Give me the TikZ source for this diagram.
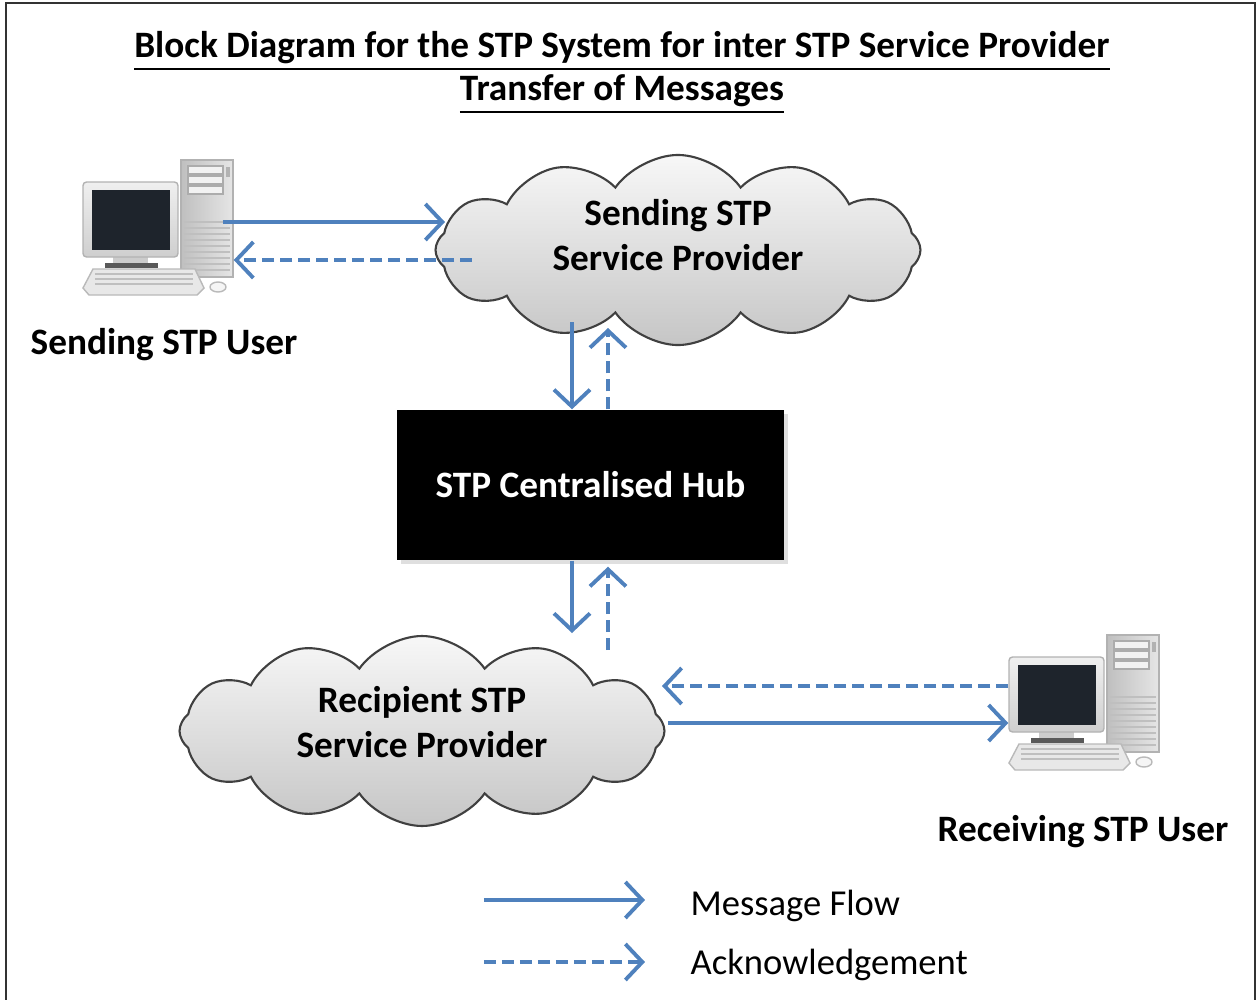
\documentclass[tikz,border=0pt]{standalone}
\usepackage{fontspec}
\setmainfont{Carlito}
\usetikzlibrary{arrows.meta,positioning,shapes.symbols,shadows}
\definecolor{flowblue}{RGB}{79,129,189}
\definecolor{crtscreen}{RGB}{30,36,44}

\begin{document}
\begin{tikzpicture}[x=0.1mm,y=-0.1mm,
    >={Straight Barb[length=1.7mm,width=3.6mm]},
    msg/.style={->,draw=flowblue,line width=1.1pt},
    ack/.style={msg,dash pattern=on 1.2mm off 0.6mm},
    cloudbox/.style={cloud,cloud puffs=12,cloud puff arc=110,aspect=2.6,draw=black!75,line width=0.6pt,
        top color=gray!6,bottom color=gray!45,minimum width=4.85cm,minimum height=1.9cm,align=center,
        font=\bfseries\fontsize{10.6}{12.8}\selectfont,inner sep=0pt},
    hubbox/.style={rectangle,fill=black,text=white,minimum width=3.87cm,minimum height=1.5cm,
        font=\bfseries\fontsize{10.6}{12.8}\selectfont,
        drop shadow={shadow xshift=0.4mm,shadow yshift=-0.4mm,opacity=0.25}},
    titletext/.style={align=center,font=\bfseries\fontsize{10.6}{12.2}\selectfont,inner sep=0pt},
    userlabel/.style={font=\bfseries\fontsize{10.6}{12.8}\selectfont,inner sep=0pt},
    keytext/.style={font=\fontsize{10.4}{12.5}\selectfont,inner sep=0pt},
    tower/.style={draw=gray!60,left color=gray!50,right color=gray!20,minimum width=5.2mm,
        minimum height=11.7mm,inner sep=0pt},
    monitor/.style={draw=gray!60,rounded corners=1pt,top color=gray!12,bottom color=gray!38,
        minimum width=9.5mm,minimum height=7.5mm,inner sep=0pt},
    computer/.pic={
      \node[tower] (-tower) at (124,58.5) {};
      \foreach \b in {6,16,26} \draw[draw=gray!65,fill=gray!10] (105,\b) rectangle (140,\b+8);
      \fill[gray!60] (143,7) rectangle (147,17);
      \foreach \v in {62,68,...,110} \draw[gray!50,line width=0.3pt] (101,\v) -- (147,\v);
      \fill[gray!40] (30,97) rectangle (65,104);
      \fill[black!65] (22,103) rectangle (75,108);
      \node[monitor] (-screen) at (47.5,59.5) {};
      \fill[crtscreen] (9,30) rectangle (87,90);
      \filldraw[draw=gray!55,fill=gray!18] (10,109) -- (112,109) -- (121,128) -- (114,135) -- (6,135) -- (0,128) -- cycle;
      \foreach \r in {114,119,124} \draw[gray!50,line width=0.3pt] (12,\r) -- (110,\r);
      \filldraw[draw=gray!55,fill=gray!8] (135,127) ellipse (0.8mm and 0.5mm);
    }
  ]
  \useasboundingbox (0,0) rectangle (1256,1000);
  \draw[black!80,line width=0.7pt] (6,1000) |- (1255,3) -- (1255,1000);

  \node[titletext] (title) at (622,73) {\underline{Block Diagram for the STP System for inter STP Service Provider}\\
    \underline{Transfer of Messages}};

  \pic (snd) at (83,160) {computer};
  \pic (rcv) at (1009,635) {computer};
  \node[userlabel] (sndname) at (164,345) {Sending STP User};
  \node[userlabel] (rcvname) at (1083,832) {Receiving STP User};

  \node[cloudbox,text depth=3.1mm] (spr) at (678,250) {Sending STP\\Service Provider};
  \node[hubbox]   (hub) at (590.5,485) {STP Centralised Hub};
  \node[cloudbox,text depth=1.9mm] (rsp) at (422,731) {Recipient STP\\Service Provider};

  \coordinate (sprIn)   at (445,222);
  \coordinate (sprOut)  at (472,260);
  \coordinate (sprDown) at (572,322);
  \coordinate (sprUp)   at (608,328);
  \coordinate (rspDown) at (572,633);
  \coordinate (rspUp)   at (608,650);
  \coordinate (rspIn)   at (662,686);
  \coordinate (rspOut)  at (668,723);

  \path (snd-tower.east |- sprIn) edge[msg,shorten <=-1.1mm] (sprIn)
        (sprOut) edge[ack] (sprOut -| snd-tower.east)
        (sprDown) edge[msg] (sprDown |- hub.north)
        (sprUp |- hub.north) edge[ack] (sprUp)
        (rspDown |- hub.south) edge[msg] (rspDown)
        (rspUp) edge[ack,shorten >=0.6mm] (rspUp |- hub.south)
        (rcv-screen.west |- rspIn) edge[ack] (rspIn)
        (rspOut) edge[msg] (rspOut -| rcv-screen.west);

  \coordinate (keyMsgA) at (484,900);
  \coordinate (keyMsgB) at (645,900);
  \coordinate (keyAckA) at (484,962);
  \coordinate (keyAckB) at (645,962);
  \path (keyMsgA) edge[msg] (keyMsgB)
        (keyAckA) edge[ack] (keyAckB);
  \node[keytext,right=4.5mm of keyMsgB,yshift=-0.6mm] (keyMsg) {Message Flow};
  \node[keytext,right=4.5mm of keyAckB,yshift=-0.3mm] (keyAck) {Acknowledgement};
\end{tikzpicture}
\end{document}
